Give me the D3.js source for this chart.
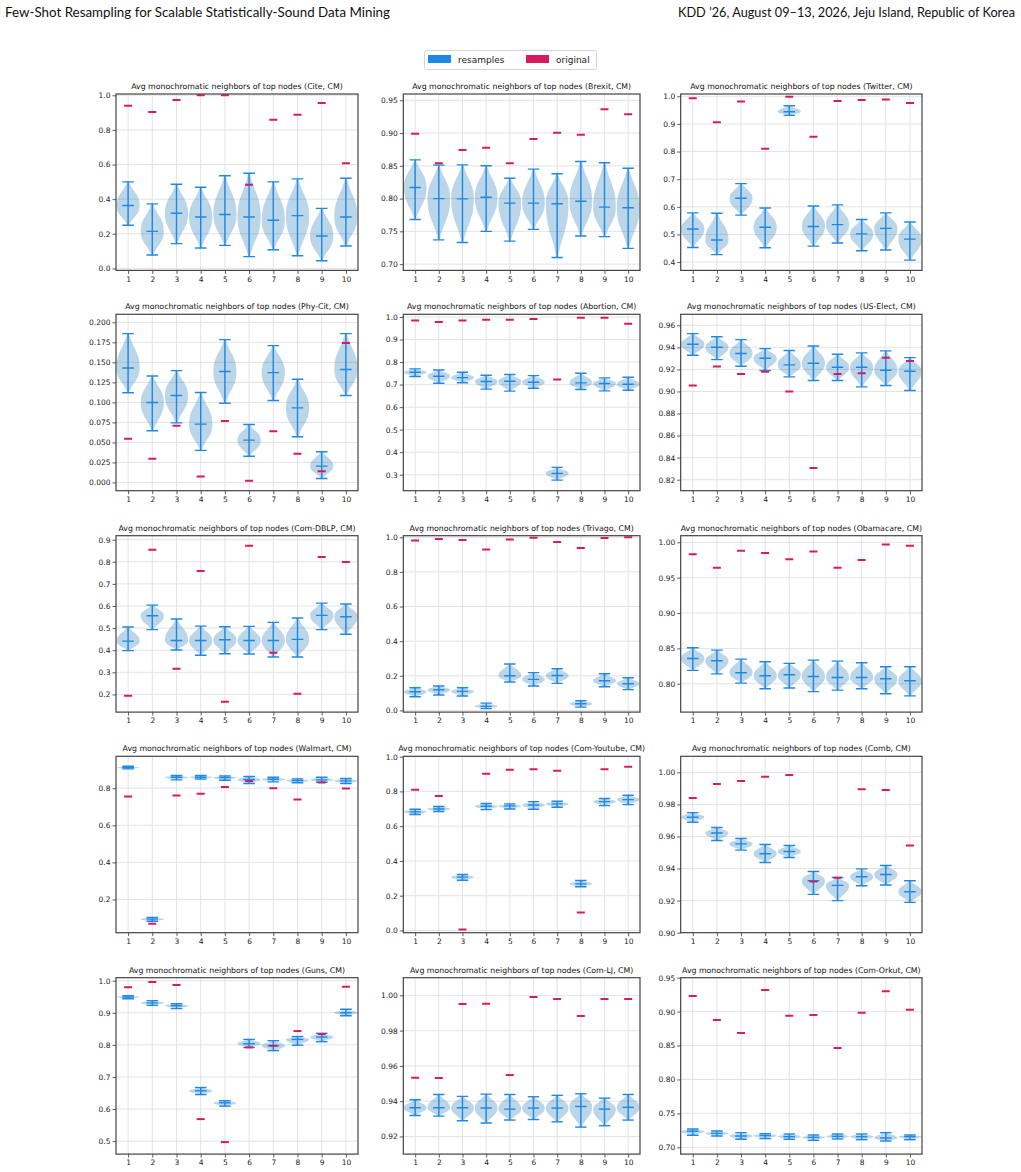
<!DOCTYPE html>
<html><head><meta charset="utf-8">
<script src="https://cdn.jsdelivr.net/npm/d3@7"></script>
<style>body{margin:0;background:#fff} svg{display:block}</style>
</head><body>
<script>
const datasets = ["Cite","Brexit","Twitter","Phy-Cit","Abortion","US-Elect","Com-DBLP","Trivago","Obamacare","Walmart","Com-Youtube","Comb","Guns","Com-LJ","Com-Orkut"];
const positions = [1,2,3,4,5,6,7,8,9,10];

const resMin = [
 [0.249,0.077,0.143,0.118,0.133,0.068,0.108,0.073,0.044,0.129],
 [0.768,0.737,0.733,0.750,0.735,0.753,0.710,0.743,0.742,0.724],
 [0.453,0.427,0.570,0.452,0.931,0.458,0.469,0.441,0.444,0.407],
 [0.112,0.0645,0.0744,0.040,0.099,0.0328,0.1023,0.057,0.005,0.1085],
 [0.736,0.706,0.708,0.680,0.671,0.684,0.276,0.678,0.672,0.675],
 [0.9328,0.9289,0.9229,0.919,0.9132,0.9099,0.9099,0.9042,0.9054,0.9009],
 [0.398,0.493,0.401,0.377,0.384,0.383,0.369,0.369,0.493,0.472],
 [0.079,0.089,0.083,0.010,0.164,0.141,0.156,0.019,0.137,0.120],
 [0.819,0.814,0.801,0.793,0.794,0.789,0.791,0.793,0.786,0.783],
 [0.904,0.083,0.845,0.849,0.843,0.825,0.834,0.829,0.832,0.825],
 [0.667,0.684,0.289,0.695,0.699,0.697,0.709,0.251,0.718,0.724],
 [0.9689,0.9575,0.9515,0.9438,0.9469,0.9239,0.920,0.9293,0.9297,0.9189],
 [0.944,0.923,0.913,0.645,0.609,0.792,0.782,0.799,0.810,0.891],
 [0.9319,0.9315,0.9289,0.9276,0.9293,0.9296,0.9283,0.9253,0.9261,0.9293],
 [0.7177,0.7167,0.7118,0.7128,0.7118,0.7103,0.7123,0.7113,0.7093,0.7113]
];
const resMed = [
 [0.363,0.214,0.319,0.297,0.311,0.297,0.278,0.305,0.187,0.297],
 [0.817,0.800,0.7995,0.802,0.793,0.793,0.792,0.796,0.787,0.786],
 [0.520,0.480,0.631,0.526,0.944,0.529,0.5355,0.502,0.522,0.483],
 [0.143,0.0998,0.1085,0.0728,0.1385,0.0528,0.1372,0.0931,0.0204,0.141],
 [0.755,0.737,0.731,0.7135,0.715,0.7106,0.306,0.7076,0.7047,0.7017],
 [0.9428,0.9401,0.9344,0.9301,0.9241,0.9256,0.922,0.922,0.9193,0.9184],
 [0.441,0.556,0.444,0.444,0.447,0.444,0.444,0.449,0.5575,0.5515],
 [0.108,0.1195,0.110,0.023,0.200,0.179,0.202,0.0385,0.1715,0.154],
 [0.8358,0.8325,0.8156,0.8113,0.8127,0.8104,0.809,0.809,0.8071,0.8042],
 [0.911,0.094,0.859,0.859,0.8575,0.8467,0.8485,0.8413,0.8449,0.8395],
 [0.682,0.699,0.3065,0.7146,0.7165,0.7222,0.728,0.2682,0.7414,0.7529],
 [0.972,0.9622,0.9554,0.9492,0.9506,0.9324,0.9295,0.9349,0.9363,0.9255],
 [0.949,0.931,0.922,0.657,0.6195,0.8035,0.7973,0.817,0.8243,0.9002],
 [0.9363,0.9363,0.9363,0.9361,0.9355,0.9361,0.9361,0.937,0.9355,0.9365],
 [0.7236,0.7206,0.7167,0.7172,0.7157,0.7147,0.7162,0.7157,0.7138,0.7157]
];
const resMax = [
 [0.500,0.373,0.486,0.469,0.535,0.550,0.500,0.517,0.347,0.521],
 [0.859,0.851,0.8515,0.850,0.831,0.845,0.838,0.8566,0.8546,0.8464],
 [0.578,0.577,0.684,0.596,0.966,0.603,0.607,0.554,0.578,0.545],
 [0.1859,0.133,0.1397,0.1123,0.1784,0.0723,0.1709,0.1289,0.0383,0.1859],
 [0.7696,0.765,0.755,0.7416,0.7445,0.740,0.3325,0.7504,0.7297,0.7327],
 [0.9525,0.9497,0.947,0.9389,0.9371,0.9413,0.9337,0.935,0.9368,0.9307],
 [0.505,0.604,0.541,0.509,0.506,0.508,0.526,0.5455,0.613,0.609],
 [0.131,0.141,0.131,0.042,0.268,0.218,0.241,0.056,0.212,0.189],
 [0.851,0.8476,0.8349,0.8311,0.8288,0.8335,0.8321,0.8297,0.824,0.824],
 [0.9186,0.103,0.8683,0.8683,0.8665,0.8629,0.8593,0.8503,0.8593,0.8521],
 [0.697,0.713,0.322,0.730,0.728,0.741,0.743,0.287,0.759,0.778],
 [0.9749,0.9656,0.9587,0.955,0.9544,0.9382,0.9344,0.9398,0.9419,0.9324],
 [0.953,0.938,0.928,0.667,0.626,0.817,0.813,0.826,0.836,0.911],
 [0.9408,0.9438,0.9427,0.944,0.9438,0.9425,0.9433,0.9442,0.9417,0.9438],
 [0.727,0.7241,0.7216,0.7201,0.7196,0.7182,0.7196,0.7196,0.7216,0.7182]
];
const original = [
 [0.940,0.903,0.973,1.0,1.0,0.483,0.859,0.888,0.956,0.608],
 [0.899,0.854,0.874,0.8776,0.854,0.891,0.9005,0.8974,0.9362,0.9286],
 [0.993,0.906,0.981,0.810,0.998,0.854,0.983,0.987,0.988,0.976],
 [0.0545,0.0295,0.0707,0.0075,0.0769,0.0021,0.064,0.0358,0.0141,0.1742],
 [0.984,0.978,0.984,0.988,0.988,0.991,0.7224,0.997,0.997,0.9705],
 [0.9054,0.9226,0.9159,0.918,0.900,0.8306,0.9159,0.9165,0.9307,0.9277],
 [0.194,0.855,0.316,0.758,0.167,0.873,0.389,0.203,0.8215,0.799],
 [0.981,0.990,0.985,0.929,0.987,0.998,0.973,0.938,0.996,1.0],
 [0.983,0.964,0.988,0.985,0.976,0.987,0.964,0.975,0.997,0.995],
 [0.755,0.069,0.7605,0.7695,0.807,0.8395,0.800,0.739,0.8305,0.798],
 [0.810,0.774,0.006,0.902,0.925,0.927,0.9195,0.103,0.927,0.9425],
 [0.984,0.9927,0.9946,0.9973,0.9983,0.932,0.9342,0.9894,0.989,0.9544],
 [0.980,0.996,0.9865,0.5686,0.4969,0.7921,0.7973,0.843,0.8337,0.9813],
 [0.9533,0.9531,0.9951,0.9953,0.9548,0.9991,0.9979,0.9883,0.9979,0.9979],
 [0.923,0.8876,0.8685,0.9318,0.894,0.895,0.8464,0.8984,0.9299,0.9028]
];
const yLimits = [
 [-0.0116,1.0075],[0.6904,0.9596],[0.370,1.0083],
 [-0.0103,0.210],[0.229,1.012],[0.810,0.970],
 [0.120,0.918],[-0.0098,1.0092],[0.760,1.0093],
 [0.021,0.972],[-0.013,1.002],[0.90,1.01],
 [0.4595,1.0094],[0.910,1.010],[0.690,0.950]
];
const yTickLabels = [
 ["0.0","0.2","0.4","0.6","0.8","1.0"],
 ["0.70","0.75","0.80","0.85","0.90","0.95"],
 ["0.4","0.5","0.6","0.7","0.8","0.9","1.0"],
 ["0.000","0.025","0.050","0.075","0.100","0.125","0.150","0.175","0.200"],
 ["0.3","0.4","0.5","0.6","0.7","0.8","0.9","1.0"],
 ["0.82","0.84","0.86","0.88","0.90","0.92","0.94","0.96"],
 ["0.2","0.3","0.4","0.5","0.6","0.7","0.8","0.9"],
 ["0.0","0.2","0.4","0.6","0.8","1.0"],
 ["0.80","0.85","0.90","0.95","1.00"],
 ["0.2","0.4","0.6","0.8"],
 ["0.0","0.2","0.4","0.6","0.8","1.0"],
 ["0.90","0.92","0.94","0.96","0.98","1.00"],
 ["0.5","0.6","0.7","0.8","0.9","1.0"],
 ["0.92","0.94","0.96","0.98","1.00"],
 ["0.70","0.75","0.80","0.85","0.90","0.95"]
];
// relative half-width of a violin, from its extreme toward its median
const violinProfile = [0.07, 0.32, 0.68, 0.93, 1.0];
const legendLabels = ["resamples","original"];

const W = 1021, H = 1172;
const BLUE = "#1E88E5", PINK = "#D81B60";
const colLeft = [116, 403.3, 680.7], colWidth = [242, 236.7, 241.3];
const rowTop = [94, 314.3, 535.7, 756.3, 977.7], axH = 176.4;
const vWidth = 0.96;

const svg = d3.select("body").append("svg").attr("width", W).attr("height", H)
  .style("font-family", "'DejaVu Sans', sans-serif");

// page header
svg.append("text").attr("x", 5).attr("y", 17).attr("font-family", "Lato, sans-serif")
  .attr("font-size", 13).attr("fill", "#111").attr("textLength", 385).attr("lengthAdjust", "spacingAndGlyphs")
  .text("Few-Shot Resampling for Scalable Statistically-Sound Data Mining");
svg.append("text").attr("x", 678).attr("y", 17).attr("font-family", "Lato, sans-serif")
  .attr("font-size", 13).attr("fill", "#111").attr("textLength", 337).attr("lengthAdjust", "spacingAndGlyphs")
  .text("KDD \u201926, August 09\u201313, 2026, Jeju Island, Republic of Korea");

// legend
const lg = svg.append("g");
lg.append("rect").attr("x", 424.5).attr("y", 50.5).attr("width", 172).attr("height", 19).attr("rx", 2)
  .attr("fill", "#fff").attr("stroke", "#d5d5d5");
[[BLUE, 428, 458], [PINK, 526, 556]].forEach((d, i) => {
  lg.append("rect").attr("x", d[1]).attr("y", 55).attr("width", 23).attr("height", 8).attr("fill", d[0]);
  lg.append("text").attr("x", d[2]).attr("y", 63).attr("font-size", 9).attr("fill", "#222").text(legendLabels[i]);
});

datasets.forEach((name, i) => {
  const r = Math.floor(i / 3), c = i % 3;
  const left = colLeft[c], w = colWidth[c], top = rowTop[r];
  const x = d3.scaleLinear().domain([0.5, 10.5]).range([left, left + w]);
  const y = d3.scaleLinear().domain(yLimits[i]).range([top + axH, top]);
  const unit = x(1) - x(0);
  const tickVals = yTickLabels[i].map(Number);
  const g = svg.append("g");
  const clipId = "clip" + i;
  g.append("clipPath").attr("id", clipId).append("rect")
    .attr("x", left).attr("y", top).attr("width", w).attr("height", axH);

  const plot = g.append("g").attr("clip-path", `url(#${clipId})`);
  // grid
  plot.selectAll(".gx").data(positions).join("line")
    .attr("x1", d => x(d)).attr("x2", d => x(d)).attr("y1", top).attr("y2", top + axH)
    .attr("stroke", "#e3e3e3").attr("stroke-width", 1);
  plot.selectAll(".gy").data(tickVals).join("line")
    .attr("x1", left).attr("x2", left + w).attr("y1", d => y(d)).attr("y2", d => y(d))
    .attr("stroke", "#e3e3e3").attr("stroke-width", 1);

  // violins
  const half = vWidth * unit / 2;
  const n = violinProfile.length;
  positions.forEach((p, k) => {
    const mn = resMin[i][k], md = resMed[i][k], mx = resMax[i][k];
    const pts = [];
    for (let j = 0; j < n; j++) pts.push({v: mn + (md - mn) * j / (n - 1), w: violinProfile[j]});
    for (let j = n - 2; j >= 0; j--) pts.push({v: mx - (mx - md) * j / (n - 1), w: violinProfile[j]});
    const area = d3.area().curve(d3.curveMonotoneY)
      .y(d => y(d.v)).x0(d => x(p) - half * d.w).x1(d => x(p) + half * d.w);
    plot.append("path").attr("d", area(pts)).attr("fill", "#1f77b4").attr("fill-opacity", 0.3);
  });
  const capHalf = vWidth * unit / 4;
  positions.forEach((p, k) => {
    const lines = [
      [x(p), y(resMin[i][k]), x(p), y(resMax[i][k])],
      [x(p) - capHalf, y(resMin[i][k]), x(p) + capHalf, y(resMin[i][k])],
      [x(p) - capHalf, y(resMax[i][k]), x(p) + capHalf, y(resMax[i][k])],
      [x(p) - capHalf, y(resMed[i][k]), x(p) + capHalf, y(resMed[i][k])]
    ];
    lines.forEach(l => plot.append("line").attr("x1", l[0]).attr("y1", l[1]).attr("x2", l[2]).attr("y2", l[3])
      .attr("stroke", BLUE).attr("stroke-width", 1.4));
  });
  // originals
  plot.selectAll(".orig").data(positions).join("line")
    .attr("x1", d => x(d) - 4).attr("x2", d => x(d) + 4)
    .attr("y1", (d, k) => y(original[i][k])).attr("y2", (d, k) => y(original[i][k]))
    .attr("stroke", PINK).attr("stroke-width", 2);

  // axes
  const ax = g.append("g").attr("transform", `translate(0,${top + axH})`)
    .call(d3.axisBottom(x).tickValues(positions).tickFormat(d3.format("d")).tickSize(3.5).tickPadding(2.5));
  const ay = g.append("g").attr("transform", `translate(${left},0)`)
    .call(d3.axisLeft(y).tickValues(tickVals).tickFormat((d, j) => yTickLabels[i][j]).tickSize(3.5).tickPadding(2));
  [ax, ay].forEach(a => {
    a.select(".domain").remove();
    a.selectAll("text").attr("font-size", 7.5).attr("fill", "#222").attr("font-family", "'DejaVu Sans', sans-serif");
    a.selectAll("line").attr("stroke", "#333").attr("stroke-width", 0.8);
  });
  g.append("rect").attr("x", left).attr("y", top).attr("width", w).attr("height", axH)
    .attr("fill", "none").attr("stroke", "#444").attr("stroke-width", 1.2);
  g.append("text").attr("x", left + w / 2).attr("y", top - 5).attr("text-anchor", "middle")
    .attr("font-size", 7.8).attr("fill", "#111")
    .text(`Avg monochromatic neighbors of top nodes (${name}, CM)`);
});
</script>
</body></html>
